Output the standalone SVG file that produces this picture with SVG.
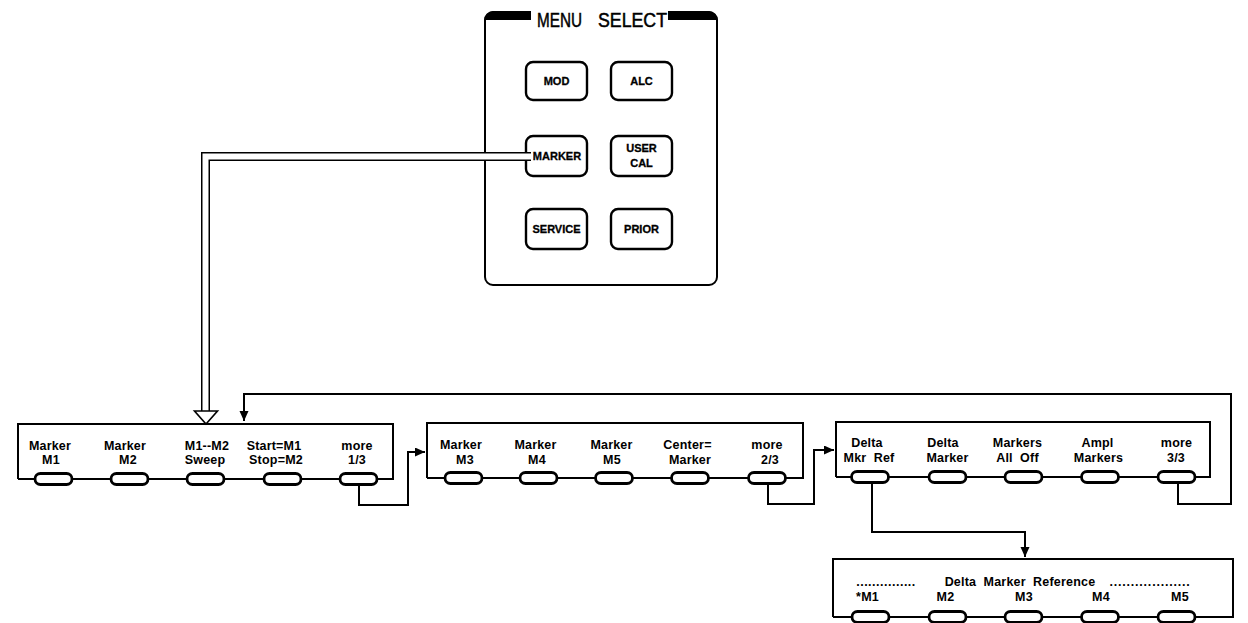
<svg xmlns="http://www.w3.org/2000/svg" width="1248" height="623" viewBox="0 0 1248 623">
<style>
.bg{fill:#fff}
.panel{fill:none;stroke:#000;stroke-width:2}
.pill{fill:#fff;stroke:#000;stroke-width:2.8}
.key{fill:#fff;stroke:#000;stroke-width:2.4}
.lbl{font-family:"Liberation Sans",Arial,sans-serif;font-weight:bold;font-size:12.5px;letter-spacing:0.2px;fill:#000;text-anchor:middle}
.klbl{font-family:"Liberation Sans",Arial,sans-serif;font-weight:bold;font-size:11px;fill:#000;text-anchor:middle;stroke:#000;stroke-width:0.3}
.title{font-family:"Liberation Sans",Arial,sans-serif;font-size:20px;fill:#000;stroke:#000;stroke-width:0.5}
.wire{fill:none;stroke:#000;stroke-width:2;stroke-linejoin:miter}
</style>
<defs>
<marker id="ah" markerUnits="userSpaceOnUse" markerWidth="11" markerHeight="10" refX="10" refY="4.5" orient="auto">
<path d="M0,0 L10,4.5 L0,9 Z" fill="#000"/>
</marker>
</defs>
<rect class="bg" x="0" y="0" width="1248" height="623"/>

<g id="menu-select">
<path class="panel" d="M668,12 H709 A8,8 0 0 1 717,20 V277 A8,8 0 0 1 709,285 H493 A8,8 0 0 1 485,277 V20 A8,8 0 0 1 493,12 H531"/>
<path d="M484,21 A10,10 0 0 1 494,11 H531 V20 H484 Z" fill="#000"/>
<path d="M668,11 H708 A10,10 0 0 1 718,21 V20 H668 Z" fill="#000"/>
<text class="title" x="537" y="27" textLength="45" lengthAdjust="spacingAndGlyphs">MENU</text>
<text class="title" x="598" y="27" textLength="69" lengthAdjust="spacingAndGlyphs">SELECT</text>
</g>
<g id="key-mod"><rect class="key" x="526" y="62" width="61" height="38" rx="7"/><text class="klbl" x="556.5" y="85">MOD</text></g>
<g id="key-alc"><rect class="key" x="611" y="62" width="61" height="38" rx="7"/><text class="klbl" x="641.5" y="85">ALC</text></g>
<g id="key-marker"><rect class="key" x="526" y="136" width="61" height="40" rx="7"/><text class="klbl" x="557" y="160">MARKER</text></g>
<g id="key-usercal"><rect class="key" x="611" y="136" width="61" height="40" rx="7"/><text class="klbl" x="641.5" y="152">USER</text><text class="klbl" x="641.5" y="167">CAL</text></g>
<g id="key-service"><rect class="key" x="526" y="209" width="61" height="40" rx="7"/><text class="klbl" x="556.5" y="233">SERVICE</text></g>
<g id="key-prior"><rect class="key" x="611" y="209" width="61" height="40" rx="7"/><text class="klbl" x="641.5" y="233">PRIOR</text></g>

<g id="connectors">
<path d="M531,156.5 H205.5 V412" fill="none" stroke="#000" stroke-width="9"/>
<path d="M533,156.5 H205.5 V413" fill="none" stroke="#fff" stroke-width="6"/>
<polygon points="194.5,411 217.5,411 206,424" fill="#fff" stroke="#000" stroke-width="1.6" stroke-linejoin="miter"/>
<path class="wire" d="M359,485 V505 H408 V452 H425" marker-end="url(#ah)"/>
<path class="wire" d="M768,484 V504 H814 V450 H834" marker-end="url(#ah)"/>
<path class="wire" d="M1178,483 V504 H1231 V394 H244 V421" marker-end="url(#ah)"/>
<path class="wire" d="M872,483 V532 H1025 V557" marker-end="url(#ah)"/>
</g>

<g id="softkeys-1">
<path class="panel" d="M18,479 V424 H393 V479 H18"/>
<rect class="pill" x="35" y="473.5" width="37" height="11" rx="5.5"/>
<rect class="pill" x="111" y="473.5" width="37" height="11" rx="5.5"/>
<rect class="pill" x="187" y="473.5" width="37" height="11" rx="5.5"/>
<rect class="pill" x="264" y="473.5" width="37" height="11" rx="5.5"/>
<rect class="pill" x="340" y="473.5" width="37" height="11" rx="5.5"/>
<text class="lbl" x="50" y="450">Marker</text><text class="lbl" x="51" y="464">M1</text>
<text class="lbl" x="125" y="450">Marker</text><text class="lbl" x="128" y="464">M2</text>
<text class="lbl" x="207" y="450">M1--M2</text><text class="lbl" x="205" y="464">Sweep</text>
<text class="lbl" x="274" y="450">Start=M1</text><text class="lbl" x="276" y="464">Stop=M2</text>
<text class="lbl" x="357" y="450">more</text><text class="lbl" x="357" y="464">1/3</text>
</g>

<g id="softkeys-2">
<path class="panel" d="M427,478 V423 H803 V478 H427"/>
<rect class="pill" x="445" y="472.5" width="37" height="11" rx="5.5"/>
<rect class="pill" x="520" y="472.5" width="37" height="11" rx="5.5"/>
<rect class="pill" x="595.5" y="472.5" width="37" height="11" rx="5.5"/>
<rect class="pill" x="671.5" y="472.5" width="37" height="11" rx="5.5"/>
<rect class="pill" x="748.5" y="472.5" width="37" height="11" rx="5.5"/>
<text class="lbl" x="461" y="449">Marker</text><text class="lbl" x="465" y="464">M3</text>
<text class="lbl" x="535.5" y="449">Marker</text><text class="lbl" x="537" y="464">M4</text>
<text class="lbl" x="611.5" y="449">Marker</text><text class="lbl" x="612" y="464">M5</text>
<text class="lbl" x="687.5" y="449">Center=</text><text class="lbl" x="690" y="464">Marker</text>
<text class="lbl" x="767" y="449">more</text><text class="lbl" x="770" y="464">2/3</text>
</g>

<g id="softkeys-3">
<path class="panel" d="M836,477 V422 H1210 V477 H836"/>
<rect class="pill" x="851.5" y="471.5" width="37" height="11" rx="5.5"/>
<rect class="pill" x="929" y="471.5" width="37" height="11" rx="5.5"/>
<rect class="pill" x="1005" y="471.5" width="37" height="11" rx="5.5"/>
<rect class="pill" x="1081.5" y="471.5" width="37" height="11" rx="5.5"/>
<rect class="pill" x="1158" y="471.5" width="37" height="11" rx="5.5"/>
<text class="lbl" x="867" y="447">Delta</text><text class="lbl" x="869" y="462" xml:space="preserve">Mkr  Ref</text>
<text class="lbl" x="943" y="447">Delta</text><text class="lbl" x="947.5" y="462">Marker</text>
<text class="lbl" x="1017.5" y="447">Markers</text><text class="lbl" x="1017.5" y="462" xml:space="preserve">All  Off</text>
<text class="lbl" x="1097.5" y="447">Ampl</text><text class="lbl" x="1098.5" y="462">Markers</text>
<text class="lbl" x="1176.5" y="447">more</text><text class="lbl" x="1176" y="462">3/3</text>
</g>

<g id="delta-marker-reference">
<path class="panel" d="M833,617 V559 H1233 V617 H833"/>
<rect class="pill" x="852" y="611.5" width="37" height="11" rx="5.5"/>
<rect class="pill" x="929" y="611.5" width="37" height="11" rx="5.5"/>
<rect class="pill" x="1005" y="611.5" width="37" height="11" rx="5.5"/>
<rect class="pill" x="1081.5" y="611.5" width="37" height="11" rx="5.5"/>
<rect class="pill" x="1158" y="611.5" width="37" height="11" rx="5.5"/>
<text class="lbl" x="886" y="586" style="letter-spacing:0.5px">...............</text>
<text class="lbl" x="1020" y="586" xml:space="preserve">Delta  Marker  Reference</text>
<text class="lbl" x="1150" y="586" style="letter-spacing:0.8px">...................</text>
<text class="lbl" x="867.5" y="601">*M1</text>
<text class="lbl" x="945.5" y="601">M2</text>
<text class="lbl" x="1024" y="601">M3</text>
<text class="lbl" x="1101" y="601">M4</text>
<text class="lbl" x="1180" y="601">M5</text>
</g>
</svg>
